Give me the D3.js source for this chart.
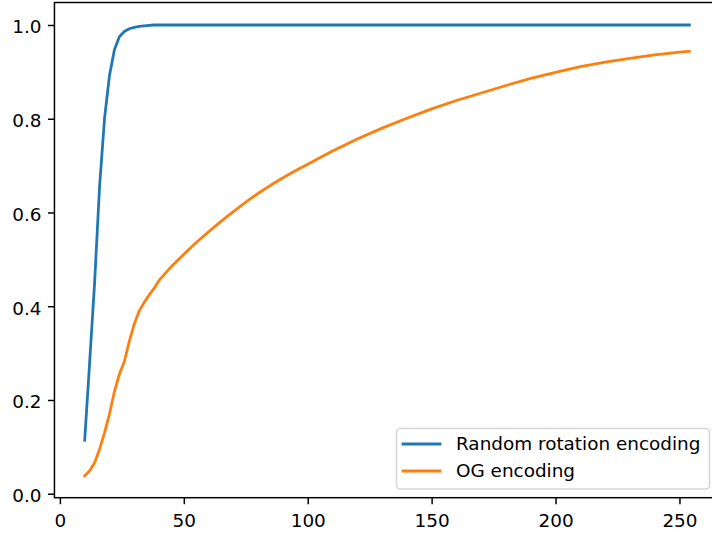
<!DOCTYPE html>
<html>
<head>
<meta charset="utf-8">
<script src="https://cdn.jsdelivr.net/npm/d3@7"></script>
<style>
  html, body { margin: 0; padding: 0; background: #fff; }
  svg { display: block; font-family: "DejaVu Sans", sans-serif; }
</style>
</head>
<body>
<svg id="chart" width="712" height="534"></svg>
<script>
// ---- data ----
const xValues = [10,12,14,16,18,20,22,24,26,28,30,32,34,36,38,40,45,50,55,60,65,70,75,80,85,90,95,100,
                 110,120,130,140,150,160,170,180,190,200,210,220,230,240,250,254];
const randomRotation = [0.114,0.28,0.45,0.655,0.80,0.892,0.947,0.975,0.986,0.992,0.995,0.997,0.998,0.999,1.0,1.0,1.0,1.0,1.0,1.0,1.0,1.0,1.0,1.0,1.0,1.0,1.0,1.0,
                 1.0,1.0,1.0,1.0,1.0,1.0,1.0,1.0,1.0,1.0,1.0,1.0,1.0,1.0,1.0,1.0];
const ogEncoding = [0.038,0.049,0.066,0.095,0.13,0.17,0.218,0.255,0.282,0.325,0.362,0.39,0.408,0.424,0.438,0.455,0.485,0.511,0.536,0.559,0.581,0.602,0.622,0.641,0.658,0.674,0.689,0.703,
                 0.731,0.757,0.780,0.801,0.821,0.839,0.855,0.871,0.886,0.899,0.911,0.921,0.929,0.936,0.942,0.944];
const seriesNames = ["Random rotation encoding", "OG encoding"];
const seriesColors = ["#1f77b4", "#ff7f0e"];
const xTicks = [0, 50, 100, 150, 200, 250];
const yTicks = [0.0, 0.2, 0.4, 0.6, 0.8, 1.0];

// ---- layout ----
const svg = d3.select("#chart");
const plotLeft = 54.45, plotRight = 719.6, plotTop = 2.5, plotBottom = 497.7;
const fs = 18.4;

const x = d3.scaleLinear().domain([-2.2, 266.2]).range([plotLeft, plotRight]);
const y = d3.scaleLinear().domain([-0.0085, 1.048]).range([plotBottom, plotTop]);

const series = [randomRotation, ogEncoding];

// lines
const line = d3.line().x(d => x(d[0])).y(d => y(d[1]));
series.forEach((vals, i) => {
  svg.append("path")
    .datum(xValues.map((xv, j) => [xv, vals[j]]))
    .attr("d", line)
    .attr("fill", "none")
    .attr("stroke", seriesColors[i])
    .attr("stroke-width", 2.77)
    .attr("stroke-linejoin", "round")
    .attr("stroke-linecap", "square");
});

// axes
const xAxis = d3.axisBottom(x).tickValues(xTicks).tickFormat(d3.format("d"))
  .tickSize(6.5).tickPadding(6.5).tickSizeOuter(0);
const yAxis = d3.axisLeft(y).tickValues(yTicks).tickFormat(d3.format(".1f"))
  .tickSize(6.5).tickPadding(6.5).tickSizeOuter(0);

const gx = svg.append("g").attr("transform", `translate(0,${plotBottom})`).call(xAxis);
const gy = svg.append("g").attr("transform", `translate(${plotLeft},0)`).call(yAxis);
[gx, gy].forEach(g => {
  g.select(".domain").remove();
  g.selectAll(".tick line").attr("stroke", "#000").attr("stroke-width", 1.48);
  g.selectAll(".tick text").attr("fill", "#000").attr("font-size", fs)
    .attr("font-family", "DejaVu Sans");
});
gx.selectAll(".tick text").attr("dy", null).attr("y", 29.3);
gy.selectAll(".tick text").attr("dy", "0.43em");

// frame
svg.append("rect")
  .attr("x", plotLeft).attr("y", plotTop)
  .attr("width", plotRight - plotLeft).attr("height", plotBottom - plotTop)
  .attr("fill", "none").attr("stroke", "#000").attr("stroke-width", 1.48);

// legend
const lg = svg.append("g");
lg.append("rect")
  .attr("x", 396.5).attr("y", 428.5).attr("width", 313).attr("height", 60.5)
  .attr("rx", 3.7).attr("ry", 3.7)
  .attr("fill", "#fff").attr("fill-opacity", 0.8)
  .attr("stroke", "#d6d6d6").attr("stroke-width", 1.48);
const rows = [444, 471];
seriesNames.forEach((name, i) => {
  lg.append("line")
    .attr("x1", 403).attr("x2", 440)
    .attr("y1", rows[i]).attr("y2", rows[i])
    .attr("stroke", seriesColors[i]).attr("stroke-width", 2.77)
    .attr("stroke-linecap", "square");
  lg.append("text")
    .attr("x", 456).attr("y", rows[i] + 6.3)
    .attr("font-size", fs).attr("fill", "#000")
    .text(name);
});
</script>
</body>
</html>
